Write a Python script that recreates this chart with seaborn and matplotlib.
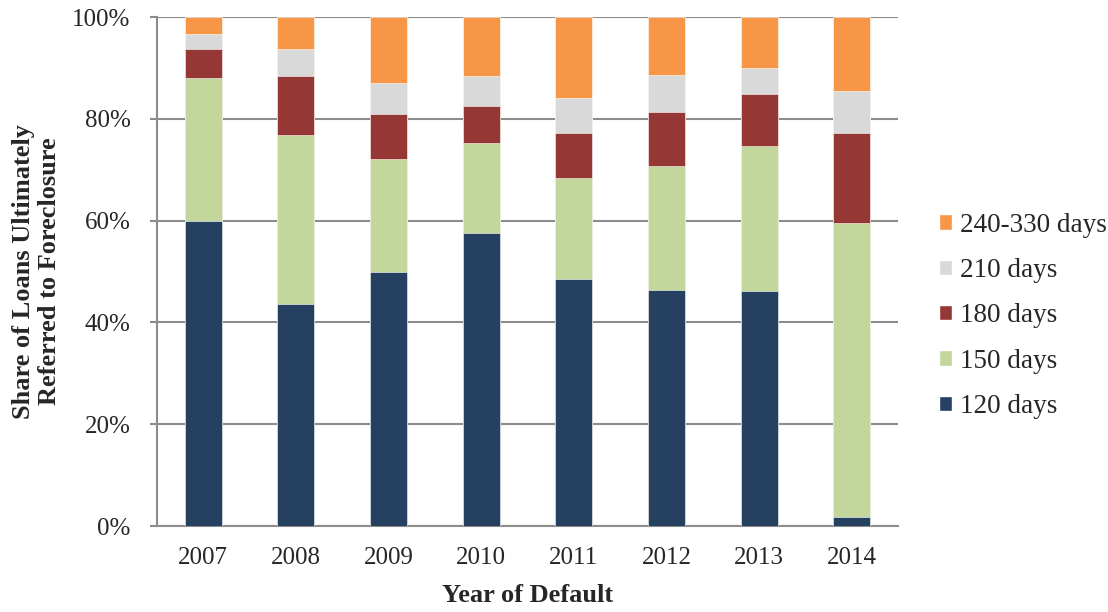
import pandas as pd
import numpy as np
import matplotlib.pyplot as plt
import seaborn as sns
from matplotlib.patches import Patch

# данные (доли в %)
years = ['2007', '2008', '2009', '2010', '2011', '2012', '2013', '2014']
d120 = [60.0, 43.6, 50.0, 57.6, 48.6, 46.4, 46.2, 1.8]
d150 = [28.1, 33.3, 22.2, 17.6, 19.8, 24.3, 28.5, 57.8]
d180 = [5.7, 11.6, 8.8, 7.4, 8.8, 10.7, 10.1, 17.7]
d210 = [2.8, 5.3, 6.0, 5.9, 7.0, 7.3, 5.2, 8.2]
d240 = [3.4, 6.2, 13.0, 11.5, 15.8, 11.3, 10.0, 14.5]

labels = ['120 days', '150 days', '180 days', '210 days', '240-330 days']
colors = ['#254061', '#C3D69B', '#953735', '#D9D9D9', '#F79646']

df = pd.DataFrame({'Year': years, labels[0]: d120, labels[1]: d150,
                   labels[2]: d180, labels[3]: d210, labels[4]: d240})

sns.set_style('white')
plt.rcParams['font.family'] = ['Liberation Serif', 'DejaVu Serif']

fig, ax = plt.subplots(figsize=(11.08, 6.12), dpi=100)
fig.subplots_adjust(left=0.1417, right=0.8105, top=0.972, bottom=0.1405)

# стек: рисуем накопленные суммы от большей к меньшей
cum = df[labels].cumsum(axis=1)
for lab, col in zip(reversed(labels), reversed(colors)):
    sns.barplot(x=df['Year'], y=cum[lab], color=col, width=0.4, ax=ax,
                saturation=1, edgecolor='white', linewidth=0.4, zorder=3)

ax.set_ylim(0, 100)
ax.set_xlim(-0.5, 7.5)
ax.set_yticks(np.arange(0, 101, 20))
ax.set_yticklabels([f'{v}%' for v in range(0, 101, 20)])
ax.yaxis.grid(True, color='#8c8c8c', linewidth=1.5, zorder=0)
ax.set_axisbelow(True)

for s in ['top', 'right']:
    ax.spines[s].set_visible(False)
for s in ['left', 'bottom']:
    ax.spines[s].set_color('#8c8c8c')
    ax.spines[s].set_linewidth(1.5)

ax.set_xticks(np.arange(-0.5, 8, 1), minor=True)
ax.tick_params(axis='x', which='major', length=0, labelsize=18, pad=15)
ax.tick_params(axis='x', which='minor', length=9, width=1.5, color='#8c8c8c', direction='out')
ax.tick_params(axis='y', length=5, width=1.5, color='#8c8c8c', direction='out',
               labelsize=18, left=True, pad=14)

ax.set_xlabel('Year of Default', fontsize=19, fontweight='bold')
ax.set_ylabel('Share of Loans Ultimately\nReferred to Foreclosure', fontsize=19,
              fontweight='bold')
ax.xaxis.set_label_coords(0.5, -0.114)
ax.yaxis.set_label_coords(-0.129, 0.5)

handles = [Patch(facecolor=c, label=l) for l, c in zip(labels, colors)]
leg = ax.legend(handles=handles[::-1], loc='center left', bbox_to_anchor=(1.055, 0.413),
                frameon=False, fontsize=19.5, labelspacing=0.75, handlelength=0.5,
                handleheight=0.5, handletextpad=0.3, borderpad=0, borderaxespad=0)

plt.savefig('out.png', dpi=100)
